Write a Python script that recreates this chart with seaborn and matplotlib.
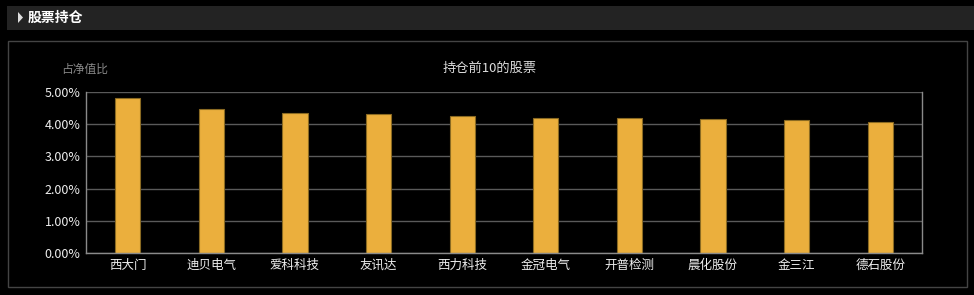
import matplotlib
matplotlib.use("Agg")
import matplotlib.pyplot as plt
import seaborn as sns
import pandas as pd
from matplotlib.patches import Rectangle, Polygon
from matplotlib.ticker import FuncFormatter

stocks = ["西大门", "迪贝电气", "爱科科技", "友讯达", "西力科技", "金冠电气", "开普检测", "晨化股份", "金三江", "德石股份"]
ratios = [4.82, 4.48, 4.34, 4.33, 4.25, 4.20, 4.19, 4.17, 4.12, 4.07]
yticks = [0, 1, 2, 3, 4, 5]

sns.set_theme(style="dark")
plt.rcParams['font.family'] = ['Noto Sans CJK SC', 'DejaVu Sans']

W, H = 974, 295
fig = plt.figure(figsize=(W / 100, H / 100), dpi=100, facecolor="black")

# header bar
fig.patches.append(Rectangle((7 / W, 1 - 30 / H), (W - 7) / W, 24 / H, transform=fig.transFigure,
                             facecolor="#232323", edgecolor="none"))
fig.patches.append(Polygon([(18 / W, 1 - 12 / H), (18 / W, 1 - 23 / H), (23 / W, 1 - 17.5 / H)],
                           closed=True, transform=fig.transFigure, facecolor="#dddddd", edgecolor="none"))
fig.text(28 / W, 1 - 18 / H, "股票持仓", color="white", fontsize=10, fontweight="bold",
         va="center", ha="left")
# panel border
fig.patches.append(Rectangle((7.5 / W, 1 - 287 / H), 959 / W, 246 / H, transform=fig.transFigure,
                             facecolor="none", edgecolor="#444444", linewidth=1))

ax = fig.add_axes([86 / W, 1 - 253 / H, 836 / W, 161 / H])
ax.set_facecolor("black")
df = pd.DataFrame({"stock": stocks, "ratio": ratios})
sns.barplot(data=df, x="stock", y="ratio", ax=ax, color="#EBAF3D", width=0.3,
            edgecolor="#8a6a22", linewidth=0.8, saturation=1)
ax.set_ylim(0, 5)
ax.set_xlim(-0.5, len(stocks) - 0.5)
ax.set_yticks(yticks)
ax.yaxis.set_major_formatter(FuncFormatter(lambda v, p: f"{v:.2f}%"))
ax.grid(axis="y", color="#5a5a5a", linewidth=1)
ax.grid(axis="x", visible=False)
ax.set_axisbelow(True)
for s in ["left", "bottom", "right"]:
    ax.spines[s].set_visible(True)
    ax.spines[s].set_color("#8a8a8a")
    ax.spines[s].set_linewidth(1)
ax.spines["top"].set_visible(False)
ax.tick_params(axis="both", colors="white", labelsize=9, length=0, pad=4)
ax.set_xlabel("")
ax.set_ylabel("")
for lbl in ax.get_xticklabels() + ax.get_yticklabels():
    lbl.set_color("#eeeeee")

fig.text(490 / W, 1 - 68 / H, "持仓前10的股票", color="#dddddd", fontsize=9.5, ha="center", va="center")
fig.text(85 / W, 1 - 69 / H, "占净值比", color="#888888", fontsize=8.5, ha="center", va="center")

fig.savefig("out.png", dpi=100, facecolor="black")
